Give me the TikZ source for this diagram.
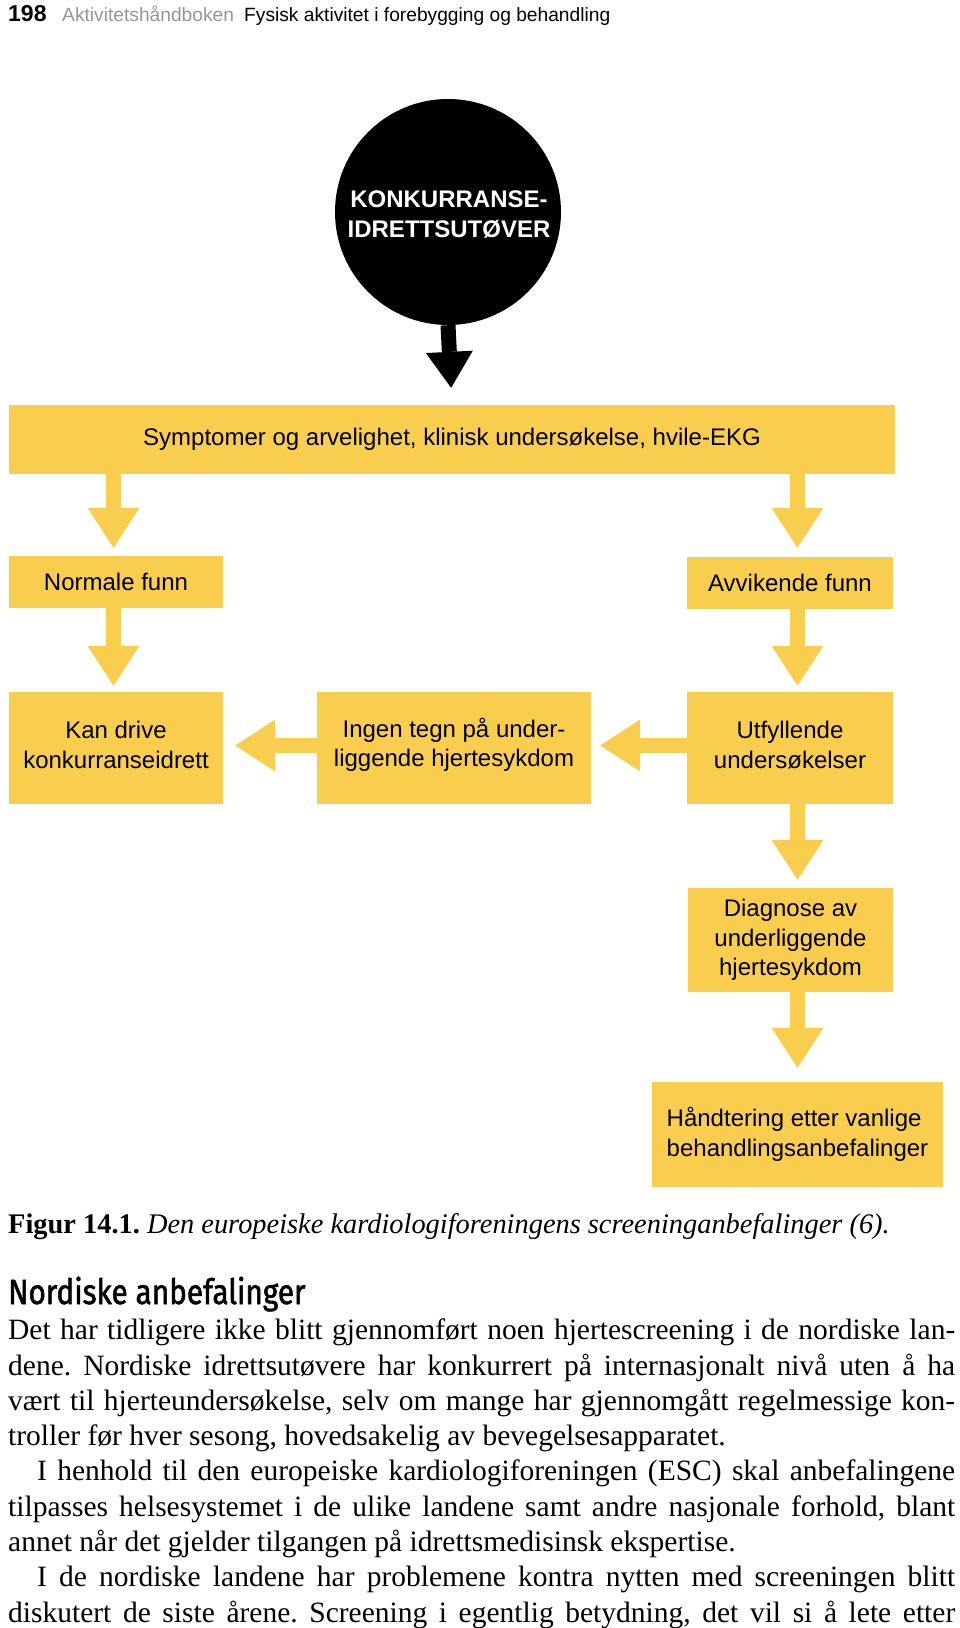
\documentclass[tikz,border=0pt]{standalone}
\usepackage{fontspec}
\setmainfont{Liberation Serif}
\newfontfamily\arial{Liberation Sans}
\newfontfamily\headfont[FakeStretch=0.85,FakeBold=1.5]{Fira Sans}
\usetikzlibrary{arrows.meta}
\definecolor{ylw}{RGB}{249,205,77}
\definecolor{hdrgray}{RGB}{150,150,150}
\newcommand\bodyfont{\fontsize{29.5}{35}\selectfont}
\newcommand\boxfont{\arial\fontsize{24}{29.5}\selectfont}
\newcommand\jline[1]{\makebox[947pt][s]{#1}}
\frenchspacing
\begin{document}
\begin{tikzpicture}[x=1pt,y=-1pt,
  ybox/.style={fill=ylw, inner sep=0pt, align=center, font=\boxfont},
  lbl/.style={inner sep=0pt, align=center, font=\boxfont},
  fat/.style={draw=ylw, line width=15pt, -{Triangle[width=52pt,length=40pt,line width=0pt]}, shorten >=8pt},
  blackarrow/.style={draw=black, line width=15pt, -{Triangle[width=47pt,length=36pt,line width=0pt]}, shorten >=17pt},
  txt/.style={anchor=base west, inner sep=0pt, font=\bodyfont},
  hdr/.style={anchor=base west, inner sep=0pt, font=\arial\fontsize{19.2}{19.2}\selectfont}]
\useasboundingbox (0,0) rectangle (960,1628);
% header
\node[hdr, font=\arial\bfseries\fontsize{23}{23}\selectfont] (pg) at (8,21) {198};
\node[hdr, text=hdrgray] (book) at (62,21) {Aktivitetshåndboken};
\node[hdr] (chap) at (244,21) {Fysisk aktivitet i forebygging og behandling};
% circle
\node[circle, fill=black, minimum size=226pt, inner sep=0pt] (athlete) at (448,212) {};
\node[inner sep=0pt, text=white, align=center,
      font=\arial\bfseries\fontsize{24}{30.5}\selectfont] (athtext) at (449,214.5) {KONKURRANSE-\\IDRETTSUTØVER};
% boxes
\node[ybox, minimum width=886pt, minimum height=69pt] (top) at (452,439.5) {Symptomer og arvelighet, klinisk undersøkelse, hvile-EKG};
\node[ybox, minimum width=214pt, minimum height=52pt] (normal) at (116,582) {Normale funn};
\node[ybox, minimum width=206pt, minimum height=52pt] (abn) at (790,583) {Avvikende funn};
\node[ybox, minimum width=214pt, minimum height=112pt] (kan) at (116,748) {};
\node[lbl] (kant) at (116,745) {Kan drive\\konkurranseidrett};
\node[ybox, minimum width=274pt, minimum height=112pt] (ingen) at (454,748) {};
\node[lbl] (ingent) at (454,745) {Ingen tegn på under-\\liggende hjertesykdom};
\node[ybox, minimum width=206pt, minimum height=112pt] (utf) at (790,748) {};
\node[lbl] (utft) at (790,745) {Utfyllende\\undersøkelser};
\node[ybox, minimum width=205pt, minimum height=104pt] (diag) at (790.5,940) {Diagnose av\\underliggende\\hjertesykdom};
\node[ybox, align=left, minimum width=291pt, minimum height=105pt] (handt) at (797.5,1134.5) {Håndtering etter vanlige\\behandlingsanbefalinger};
% connectors
\coordinate (cL) at (113.5,0);
\coordinate (cR) at (797.5,0);
\coordinate (cM) at (0,745.5);
\draw[blackarrow] (athlete.south) -- (top.north);
\draw[fat] (top.south -| cL) -- (normal.north -| cL);
\draw[fat, shorten >=6pt] (normal.south -| cL) -- (kan.north -| cL);
\draw[fat, shorten >=9pt] (top.south -| cR) -- (abn.north -| cR);
\draw[fat, shorten >=6pt] (abn.south -| cR) -- (utf.north -| cR);
\draw[fat] (utf.south -| cR) -- (diag.north -| cR);
\draw[fat, shorten >=14pt] (diag.south -| cR) -- (handt.north -| cR);
\draw[fat, shorten >=12pt] (ingen.west |- cM) -- (kan.east |- cM);
\draw[fat, shorten >=9pt] (utf.west |- cM) -- (ingen.east |- cM);
% caption and text
\node[txt, font=\fontsize{28.4}{35}\selectfont] (cap) at (8,1233) {\textbf{Figur 14.1.} \textit{Den europeiske kardiologiforeningens screeninganbefalinger (6).}};
\node[anchor=base west, inner sep=0pt, font=\headfont\fontsize{35}{35}\selectfont] (head) at (8,1304) {Nordiske anbefalinger};
\node[txt] (l1) at (8,1339.7) {\jline{Det har tidligere ikke blitt gjennomført noen hjertescreening i de nordiske lan-}};
\node[txt] (l2) at (8,1375.0) {\jline{dene. Nordiske idrettsutøvere har konkurrert på internasjonalt nivå uten å ha}};
\node[txt] (l3) at (8,1410.3) {\jline{vært til hjerteundersøkelse, selv om mange har gjennomgått regelmessige kon-}};
\node[txt] (l4) at (8,1445.6) {troller før hver sesong, hovedsakelig av bevegelsesapparatet.};
\node[txt] (l5) at (8,1480.9) {\jline{\hspace*{29pt}I henhold til den europeiske kardiologiforeningen (ESC) skal anbefalingene}};
\node[txt] (l6) at (8,1516.2) {\jline{tilpasses helsesystemet i de ulike landene samt andre nasjonale forhold, blant}};
\node[txt] (l7) at (8,1551.5) {annet når det gjelder tilgangen på idrettsmedisinsk ekspertise.};
\node[txt] (l8) at (8,1586.8) {\jline{\hspace*{29pt}I de nordiske landene har problemene kontra nytten med screeningen blitt}};
\node[txt] (l9) at (8,1622.1) {\jline{diskutert de siste årene. Screening i egentlig betydning, det vil si å lete etter}};
\end{tikzpicture}
\end{document}
